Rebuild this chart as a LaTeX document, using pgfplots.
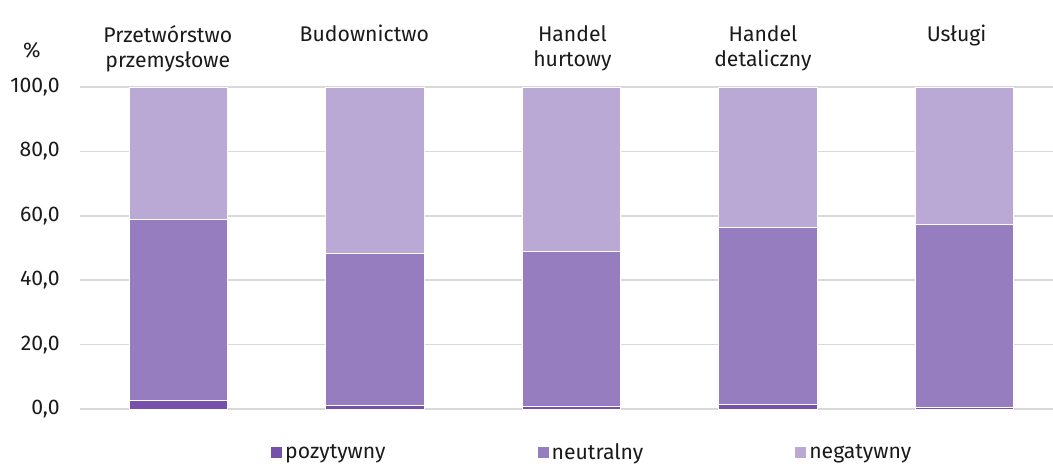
\documentclass[border=0pt]{standalone}
\usepackage{fontspec}
\setmainfont{Fira Sans}
\usepackage{pgfplots}
\pgfplotsset{compat=1.18}
\definecolor{cpos}{HTML}{7650AB}
\definecolor{cneu}{HTML}{967DBF}
\definecolor{cneg}{HTML}{BAA8D5}
\definecolor{cgrid}{HTML}{D9D9D9}
\definecolor{ctext}{HTML}{1A1A1A}
\begin{document}
\begin{tikzpicture}[font=\fontsize{10.6pt}{12.5pt}\selectfont, text=ctext]
\useasboundingbox (0,0) rectangle (526.5pt,232pt);
\begin{axis}[
  at={(40pt,27.5pt)}, anchor=south west,
  scale only axis, width=486.5pt, height=161pt,
  ybar stacked, bar width=0.5,
  xmin=-0.5, xmax=4.45, ymin=0, ymax=100,
  xtick={0,...,4}, xticklabels={}, 
  ytick={0,20,...,100},
  major tick length=0pt,
  axis line style={draw=none},
  ymajorgrids, grid style={cgrid, line width=0.75pt},
  yticklabel style={anchor=east, inner sep=0pt, xshift=-10pt,
    /pgf/number format/.cd, fixed, fixed zerofill, precision=1, use comma, assume math mode=true},
  every axis plot/.append style={draw=white, line width=0.4pt},
  legend columns=3,
  legend style={at={(0.527,-0.137)}, anchor=center, draw=none, fill=none,
    /tikz/every even column/.append style={column sep=74.5pt},
    nodes={inner sep=1.5pt}},
  legend image code/.code={\fill[#1, draw=none] (0pt,-2.5pt) rectangle (5.5pt,3pt);},
  clip=false,
]
\addplot[fill=cpos] coordinates {(0,2.7) (1,1.1) (2,0.8) (3,1.4) (4,0.4)};
\addplot[fill=cneu] coordinates {(0,56.3) (1,47.3) (2,48.2) (3,55.0) (4,56.8)};
\addplot[fill=cneg] coordinates {(0,41.0) (1,51.6) (2,51.0) (3,43.6) (4,42.8)};
\legend{pozytywny,neutralny,negatywny}
\foreach \i/\dx/\t in {0/-5.25/{Przetwórstwo\\przemysłowe},1/-5.25/{Budownictwo},2/0.5/{Handel\\hurtowy},3/-2.5/{Handel\\detaliczny},4/-4/{Usługi}}{
  \edef\tmp{\noexpand\node[anchor=north, align=center, inner sep=0pt, yshift=31pt, xshift=\dx pt] at (axis cs:\i,100) {\unexpanded\expandafter{\t}};}
  \tmp
}
\node[inner sep=0pt] at (rel axis cs:0,1) [xshift=-24pt, yshift=18.5pt] {\%};
\end{axis}
\end{tikzpicture}
\end{document}
